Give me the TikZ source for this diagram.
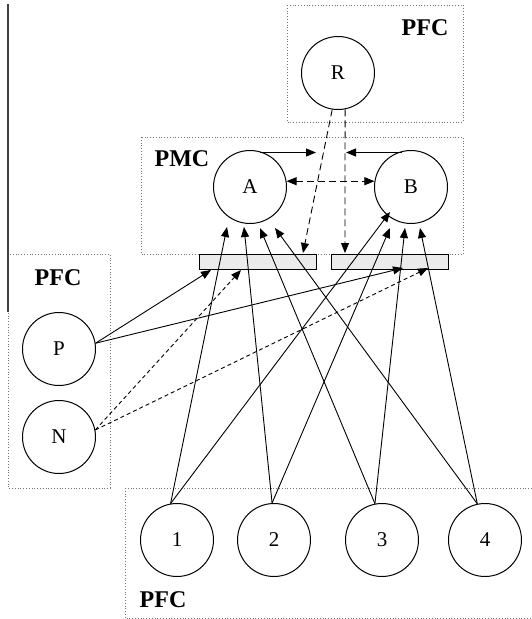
\documentclass[tikz,border=0pt]{standalone}
\usepackage{fontspec}
\setmainfont{Liberation Serif}
\usetikzlibrary{arrows.meta}
\begin{document}
\begin{tikzpicture}[x=1pt,y=-1pt,
  unit/.style={circle,draw,line width=1pt,minimum size=73pt,inner sep=0pt,font=\fontsize{21}{21}\selectfont},
  region/.style={draw=black!55,dotted,line width=0.8pt},
  lbl/.style={font=\fontsize{24}{24}\selectfont\bfseries},
  bar/.style={draw,fill=black!8,line width=0.9pt,minimum width=117pt,minimum height=15pt,inner sep=0pt},
  conn/.style={line width=0.9pt,-{Triangle[length=10pt,width=8pt]}},
  ldash/.style={dash pattern=on 7pt off 4pt},
  sdash/.style={dash pattern=on 4pt off 3pt}]
\useasboundingbox (0,0) rectangle (532,619);
\fill[white] (0,0) rectangle (532,619);
% regions
\draw[region] (287,5) rectangle (463,122);
\draw[region] (141,137) rectangle (463,254);
\draw[region] (8,254) rectangle (110,488);
\draw[region] (125,488) rectangle (540,618);
\draw[black!75,line width=1.2pt] (8,4) -- (8,312);
% labels
\node[lbl] (pfcTop) at (425,28) {PFC};
\node[lbl] (pmc) at (182,159) {PMC};
\node[lbl] (pfcLeft) at (58,278) {PFC};
\node[lbl] (pfcBot) at (163,600) {PFC};
% bars
\node[bar] (barL) at (257.5,261.5) {};
\node[bar] (barR) at (389.5,261.5) {};
% units
\node[unit] (R) at (338,73) {R};
\node[unit] (A) at (250,187) {A};
\node[unit] (B) at (411,187) {B};
\node[unit] (P) at (59,349) {P};
\node[unit] (N) at (59,437) {N};
\node[unit] (n1) at (177,540) {1};
\node[unit] (n2) at (274,540) {2};
\node[unit] (n3) at (382,540) {3};
\node[unit] (n4) at (485,540) {4};
% arrow tip targets
\coordinate (a1) at (227,227);
\coordinate (a2) at (244,227);
\coordinate (a3) at (260,228);
\coordinate (a4) at (275,228);
\coordinate (b1) at (390,212);
\coordinate (b2) at (390,228);
\coordinate (b3) at (405,228);
\coordinate (b4) at (420,228);
\coordinate (pL) at (211,270);
\coordinate (pR) at (403,268);
\coordinate (nL) at (241,270);
\coordinate (nR) at (428,268);
\coordinate (rL) at (303,253);
\coordinate (rR) at (345,253);
\coordinate (tA0) at (260,152.5);
\coordinate (tA1) at (316,152.5);
\coordinate (tB0) at (402,152.5);
\coordinate (tB1) at (346,152.5);
% bottom inputs
\draw[conn] (n1.100) -- (a1);
\draw[conn] (n1.100) -- (b1);
\draw[conn] (n2.93) -- (a2);
\draw[conn] (n2.93) -- (b2);
\draw[conn] (n3.101) -- (a3);
\draw[conn] (n3.101) -- (b3);
\draw[conn] (n4.102) -- (a4);
\draw[conn] (n4.102) -- (b4);
% P and N
\draw[conn] (P.9) -- (pL);
\draw[conn] (P.9) -- (pR);
\draw[conn,sdash] (N.11) -- (nL);
\draw[conn,sdash] (N.11) -- (nR);
% R
\draw[conn,ldash] (R.261) -- (rL);
\draw[conn,ldash] (R.281) -- (rR);
% A and B
\draw[conn] (tA0) -- (tA1);
\draw[conn] (tB0) -- (tB1);
\draw[conn,ldash,{Triangle[length=10pt,width=8pt]}-{Triangle[length=10pt,width=8pt]}] (A.9) -- (B.171);
\end{tikzpicture}
\end{document}
